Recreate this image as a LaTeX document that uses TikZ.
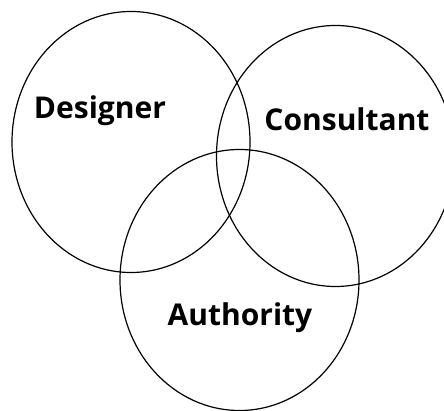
\documentclass[tikz,border=0pt]{standalone}
\usepackage{fontspec}
\setmainfont{Open Sans}
\begin{document}
\begin{tikzpicture}[x={(1pt,0)},y={(0,-1pt)},
  ring/.style={draw=black,line width=1.2pt},
  lbl/.style={font=\fontsize{30}{36}\selectfont\bfseries,inner sep=0pt,anchor=base}]
\useasboundingbox (0,0) rectangle (444,411);
\coordinate (cd) at (131,142);
\coordinate (cc) at (335.5,156);
\coordinate (ca) at (239.5,280);
\draw[ring] (cd) ellipse [x radius=119pt, y radius=130.5pt];
\draw[ring] (cc) ellipse [x radius=119pt, y radius=130.5pt];
\draw[ring] (ca) ellipse [x radius=119.5pt, y radius=130.5pt];
\node[lbl] (d) at (100,119) {Designer};
\node[lbl] (c) at (347,131) {Consultant};
\node[lbl] (a) at (240,326) {Authority};
\end{tikzpicture}
\end{document}
